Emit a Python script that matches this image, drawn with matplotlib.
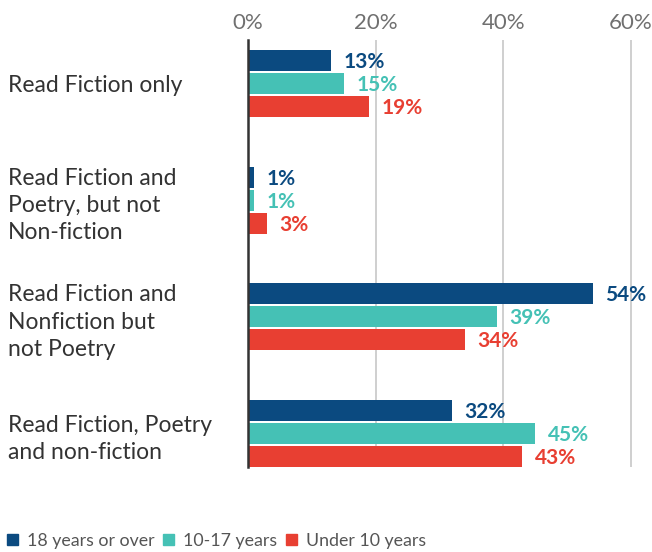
import matplotlib
matplotlib.use('Agg')
import matplotlib.pyplot as plt
import numpy as np
from matplotlib.patches import Patch

plt.rcParams['font.family'] = ['Lato', 'DejaVu Sans']

categories = ['Read Fiction only',
              'Read Fiction and\nPoetry, but not\nNon-fiction',
              'Read Fiction and\nNonfiction but\nnot Poetry',
              'Read Fiction, Poetry\nand non-fiction']
series_names = ['18 years or over', '10-17 years', 'Under 10 years']
adults = [13, 1, 54, 32]
teens = [15, 1, 39, 45]
kids = [19, 3, 34, 43]
colors = ['#0B4A80', '#45C1B5', '#E83F32']
xticks = [0, 20, 40, 60]

fig = plt.figure(figsize=(6.52, 5.52), dpi=100)
ax = fig.add_axes([248 / 652, 85 / 552, 397 / 652, 427 / 552])

y = np.arange(len(categories))
bar_h = 0.18
step = 0.197
for i, (vals, col) in enumerate(zip([adults, teens, kids], colors)):
    pos = y + (i - 1) * step
    ax.barh(pos, vals, height=bar_h, color=col, zorder=3)
    for p, v in zip(pos, vals):
        ax.annotate(f'{v}%', (v, p), xytext=(9, -1), textcoords='offset points',
                    ha='left', va='center', color=col, fontsize=15,
                    fontweight='bold', zorder=4)

ax.set_xlim(0, 62.2)
ax.set_ylim(3.286, -0.372)
ax.xaxis.tick_top()
ax.set_xticks(xticks)
ax.set_xticklabels([f'{t}%' for t in xticks], color='#707070', fontsize=16)
ax.tick_params(axis='x', length=0, pad=5)
ax.grid(axis='x', color='#cccccc', linewidth=1.3, zorder=0)

ax.set_yticks(y)
ax.set_yticklabels(categories, ha='left', fontsize=16.5, color='#333333',
                   linespacing=1.37)
ax.tick_params(axis='y', length=0, pad=172.8)

for s in ['top', 'right', 'bottom']:
    ax.spines[s].set_visible(False)
ax.spines['left'].set_color('#333333')
ax.spines['left'].set_linewidth(1.8)
ax.spines['left'].set_zorder(5)

handles = [Patch(color=c, label=n) for c, n in zip(colors, series_names)]
fig.legend(handles=handles, loc='lower left', bbox_to_anchor=(7 / 652, 0.006),
           ncol=3, frameon=False, handlelength=0.62,
           handleheight=0.62, handletextpad=0.5, columnspacing=0.5,
           borderpad=0, borderaxespad=0, labelcolor='#555555',
           prop={'size': 12.8})

fig.savefig('out.png', dpi=100)
